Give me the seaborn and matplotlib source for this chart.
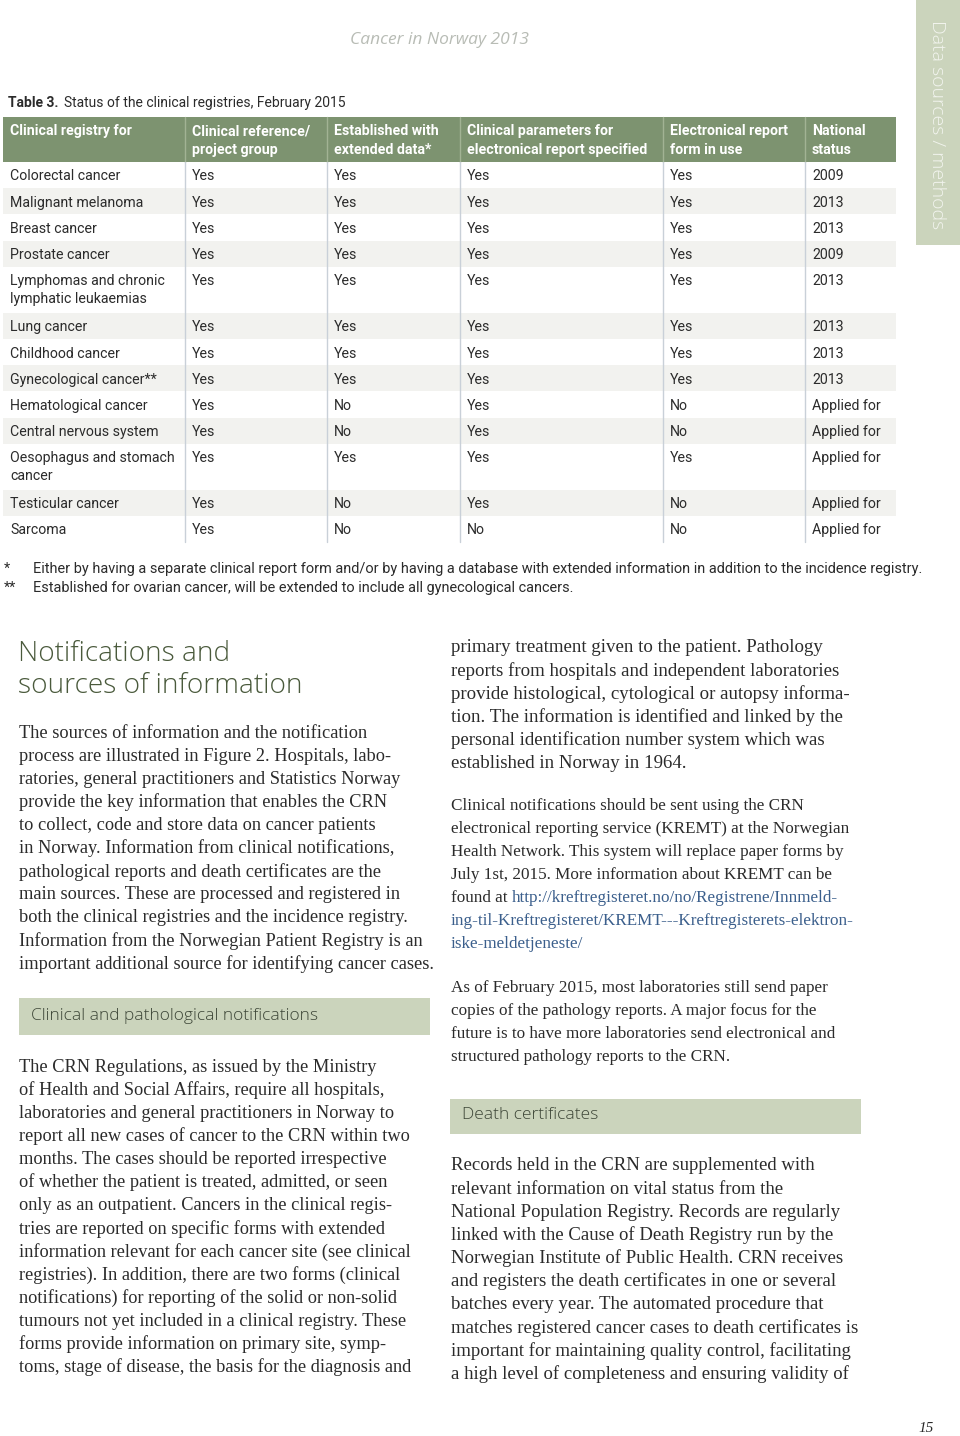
import matplotlib
matplotlib.use("Agg")
import matplotlib.pyplot as plt
import seaborn as sns
import pandas as pd
from matplotlib.patches import Rectangle

# %%
# table content
columns = ["Clinical registry for", "Clinical reference/\nproject group",
           "Established with\nextended data*", "Clinical parameters for\nelectronical report specified",
           "Electronical report\nform in use", "National\nstatus"]
registries = ["Colorectal cancer", "Malignant melanoma", "Breast cancer", "Prostate cancer",
              "Lymphomas and chronic\nlymphatic leukaemias", "Lung cancer", "Childhood cancer",
              "Gynecological cancer**", "Hematological cancer", "Central nervous system",
              "Oesophagus and stomach\ncancer", "Testicular cancer", "Sarcoma"]
reference_group = ["Yes"] * 13
extended_data = ["Yes", "Yes", "Yes", "Yes", "Yes", "Yes", "Yes", "Yes", "No", "No", "Yes", "No", "No"]
params_specified = ["Yes"] * 12 + ["No"]
report_in_use = ["Yes", "Yes", "Yes", "Yes", "Yes", "Yes", "Yes", "Yes", "No", "No", "Yes", "No", "No"]
national_status = ["2009", "2013", "2013", "2009", "2013", "2013", "2013", "2013",
                   "Applied for", "Applied for", "Applied for", "Applied for", "Applied for"]

footnotes = [("*", "Either by having a separate clinical report form and/or by having a database with extended information in addition to the incidence registry."),
             ("**", "Established for ovarian cancer, will be extended to include all gynecological cancers.")]

left_par1 = ["The sources of information and the notification",
             "process are illustrated in Figure 2. Hospitals, labo-",
             "ratories, general practitioners and Statistics Norway",
             "provide the key information that enables the CRN",
             "to collect, code and store data on cancer patients",
             "in Norway. Information from clinical notifications,",
             "pathological reports and death certificates are the",
             "main sources. These are processed and registered in",
             "both the clinical registries and the incidence registry.",
             "Information from the Norwegian Patient Registry is an",
             "important additional source for identifying cancer cases."]
left_par2 = ["The CRN Regulations, as issued by the Ministry",
             "of Health and Social Affairs, require all hospitals,",
             "laboratories and general practitioners in Norway to",
             "report all new cases of cancer to the CRN within two",
             "months. The cases should be reported irrespective",
             "of whether the patient is treated, admitted, or seen",
             "only as an outpatient. Cancers in the clinical regis-",
             "tries are reported on specific forms with extended",
             "information relevant for each cancer site (see clinical",
             "registries). In addition, there are two forms (clinical",
             "notifications) for reporting of the solid or non-solid",
             "tumours not yet included in a clinical registry. These",
             "forms provide information on primary site, symp-",
             "toms, stage of disease, the basis for the diagnosis and"]
right_par1 = ["primary treatment given to the patient. Pathology",
              "reports from hospitals and independent laboratories",
              "provide histological, cytological or autopsy informa-",
              "tion. The information is identified and linked by the",
              "personal identification number system which was",
              "established in Norway in 1964."]
right_par2 = ["Clinical notifications should be sent using the CRN",
              "electronical reporting service (KREMT) at the Norwegian",
              "Health Network. This system will replace paper forms by",
              "July 1st, 2015. More information about KREMT can be",
              "found at "]
url_lines = ["http://kreftregisteret.no/no/Registrene/Innmeld-",
             "ing-til-Kreftregisteret/KREMT---Kreftregisterets-elektron-",
             "iske-meldetjeneste/"]
right_par3 = ["As of February 2015, most laboratories still send paper",
              "copies of the pathology reports. A major focus for the",
              "future is to have more laboratories send electronical and",
              "structured pathology reports to the CRN."]
right_par4 = ["Records held in the CRN are supplemented with",
              "relevant information on vital status from the",
              "National Population Registry. Records are regularly",
              "linked with the Cause of Death Registry run by the",
              "Norwegian Institute of Public Health. CRN receives",
              "and registers the death certificates in one or several",
              "batches every year. The automated procedure that",
              "matches registered cancer cases to death certificates is",
              "important for maintaining quality control, facilitating",
              "a high level of completeness and ensuring validity of"]

df = pd.DataFrame({"registry": registries, "ref": reference_group, "ext": extended_data,
                   "par": params_specified, "inuse": report_in_use, "status": national_status})

# %%
sns.set_theme(style="white")
plt.rcParams["font.family"] = ["Roboto", "DejaVu Sans"]

GREEN = "#7d9370"
SAGE = "#cbd4bc"
STRIPE = "#f2f2ef"
TEXT = "#2b2b2b"
SERIF = ["Liberation Serif", "DejaVu Serif"]
LIGHT = ["Open Sans", "DejaVu Sans"]

fig = plt.figure(figsize=(9.6, 14.36), dpi=100)
ax = fig.add_axes([0, 0, 1, 1])
ax.set_xlim(0, 960)
ax.set_ylim(1436, 0)
ax.axis("off")

# running header + side tab
ax.text(440, 40, "Cancer in Norway 2013", ha="center", va="center", fontsize=12.5,
        style="italic", color="#b8bcb5", family=LIGHT)
ax.add_patch(Rectangle((916, 0), 44, 245, color=SAGE, lw=0))
ax.text(937, 125, "Data sources / methods", rotation=-90, ha="center", va="center",
        fontsize=14, color="#f2f4ee", family=LIGHT, fontweight="light")

# table title
t = ax.text(8, 103, "Table 3.", fontsize=10, fontweight="bold", va="center", color=TEXT)
fig.canvas.draw()
bb = t.get_window_extent().transformed(ax.transData.inverted())
ax.text(bb.x1 + 6, 103, "Status of the clinical registries, February 2015", fontsize=10,
        va="center", color=TEXT)

# table
col_x = [3, 185, 327, 460, 663, 805, 896]
head_top, head_bot = 117, 162
ax.add_patch(Rectangle((col_x[0], head_top), col_x[-1] - col_x[0], head_bot - head_top,
                       color=GREEN, lw=0))
for i, c in enumerate(columns):
    ax.text(col_x[i] + 7, head_top + 7, c, fontsize=10.2, fontweight="bold", color="white",
            va="top", linespacing=1.45)
    if i > 0:
        ax.plot([col_x[i], col_x[i]], [head_top, head_bot], color="#a2b394", lw=1)

single_h, double_h = 26.2, 46
y = head_bot
for i, row in df.iterrows():
    h = double_h if "\n" in row["registry"] else single_h
    if i % 2 == 1:
        ax.add_patch(Rectangle((col_x[0], y), col_x[-1] - col_x[0], h, color=STRIPE, lw=0))
    for j, val in enumerate(row.values):
        ax.text(col_x[j] + 7, y + 7.5, val, fontsize=10.2, color=TEXT, va="top",
                linespacing=1.38)
    y += h
table_bot = y
for xv in col_x[1:-1]:
    ax.plot([xv, xv], [head_bot, table_bot], color="#c9d0d8", lw=1)

for k, (mark, note) in enumerate(footnotes):
    yy = 569 + 19 * k
    ax.text(4, yy, mark, fontsize=10.2, color=TEXT, va="center")
    ax.text(33, yy, note, fontsize=10.45, color=TEXT, va="center")

# section heading
ax.text(18, 654, "Notifications and", fontsize=20.2, color="#4a5a3c", va="center",
        family=LIGHT, fontweight="light")
ax.text(18, 686, "sources of information", fontsize=20.2, color="#4a5a3c", va="center",
        family=LIGHT, fontweight="light")


def paragraph(lines, x, y0, size=13.2, step=23.1):
    for n, line in enumerate(lines):
        ax.text(x, y0 + n * step, line, fontsize=size, color=TEXT, va="center", family=SERIF)


paragraph(left_par1, 19, 733)
ax.add_patch(Rectangle((19, 998), 411, 37, color=SAGE, lw=0))
ax.text(31, 1016, "Clinical and pathological notifications", fontsize=12.5, color="#3d4637",
        va="center", family=LIGHT, fontweight="light")
paragraph(left_par2, 19, 1067)

paragraph(right_par1, 451, 648, size=13.6)
paragraph(right_par2, 451, 806, size=12.3)
fig.canvas.draw()
tf = ax.texts[-1]
bb = tf.get_window_extent().transformed(ax.transData.inverted())
for n, u in enumerate(url_lines):
    ax.text(bb.x1 if n == 0 else 451, 898 + n * 23.1, u, fontsize=12.3, color="#3b5f8c",
            va="center", family=SERIF)
paragraph(right_par3, 451, 988, size=12.3)
ax.add_patch(Rectangle((450, 1099), 411, 35, color=SAGE, lw=0))
ax.text(462, 1115, "Death certificates", fontsize=12.5, color="#3d4637", va="center",
        family=LIGHT, fontweight="light")
paragraph(right_par4, 451, 1166, size=13.5)

ax.text(918, 1428, "15", fontsize=11, style="italic", color=TEXT, va="center", family=SERIF)

fig.savefig("out.png", dpi=100)
